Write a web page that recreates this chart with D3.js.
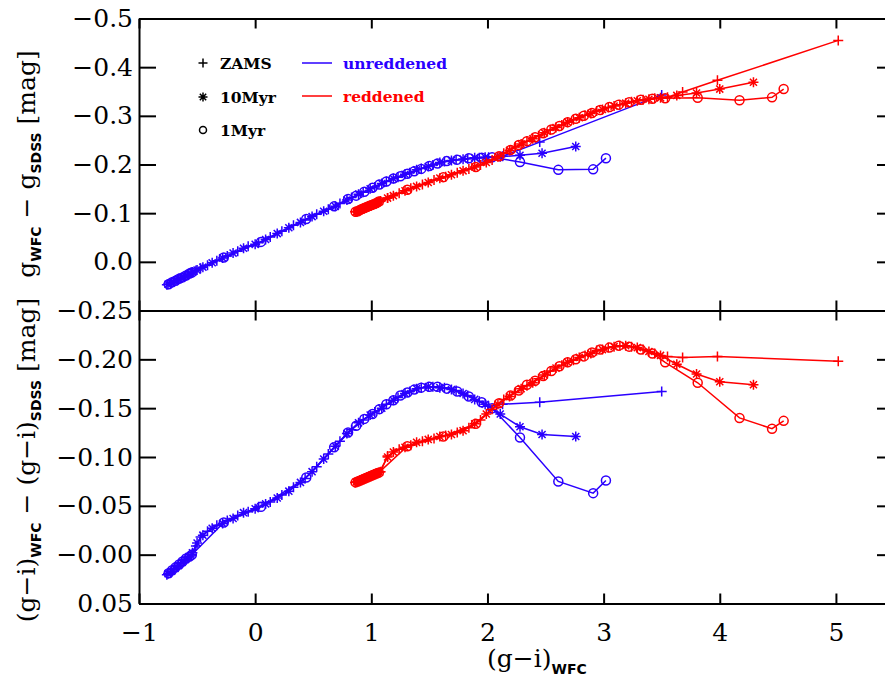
<!DOCTYPE html>
<html>
<head>
<meta charset="utf-8">
<script src="https://cdn.jsdelivr.net/npm/d3@7"></script>
<style>
  body { margin: 0; background: #fff; }
  svg { display: block; }
</style>
</head>
<body>
<div id="chart"></div>
<script>
// ---- data ----
// unreddened (blue)
var unredZamsX  = [-0.76,-0.73,-0.70,-0.67,-0.64,-0.61,-0.58,-0.55,-0.51,-0.47,-0.41,-0.33,-0.24,-0.15,-0.06,0.03,0.13,0.23,0.33,0.43,0.53,0.63,0.73,0.83,0.93,1.03,1.13,1.23,1.33,1.43,1.53,1.63,1.73,1.83,1.93,2.01,2.13,2.45,3.50];
var unredZamsG  = [0.047,0.044,0.040,0.037,0.033,0.030,0.026,0.022,0.018,0.013,0.007,-0.002,-0.012,-0.022,-0.032,-0.039,-0.051,-0.063,-0.075,-0.086,-0.098,-0.108,-0.120,-0.132,-0.143,-0.154,-0.165,-0.174,-0.183,-0.192,-0.199,-0.206,-0.210,-0.212,-0.214,-0.215,-0.217,-0.246,-0.343];
var unredZamsGI = [0.0205,0.018,0.015,0.012,0.009,0.006,0.003,0.000,-0.009,-0.018,-0.024,-0.030,-0.035,-0.040,-0.044,-0.049,-0.054,-0.061,-0.069,-0.078,-0.090,-0.103,-0.116,-0.128,-0.138,-0.146,-0.154,-0.161,-0.167,-0.171,-0.172,-0.171,-0.168,-0.163,-0.157,-0.152,-0.154,-0.156,-0.167];

var unred10X  = [-0.75,-0.72,-0.69,-0.66,-0.63,-0.60,-0.57,-0.54,-0.50,-0.45,-0.37,-0.28,-0.19,-0.10,0.00,0.09,0.19,0.29,0.39,0.49,0.59,0.69,0.79,0.89,0.99,1.09,1.19,1.29,1.39,1.49,1.59,1.69,1.79,1.89,1.98,2.11,2.28,2.47,2.76];
var unred10G  = [0.046,0.043,0.039,0.035,0.032,0.029,0.025,0.021,0.017,0.011,0.002,-0.008,-0.018,-0.028,-0.036,-0.046,-0.058,-0.070,-0.081,-0.093,-0.104,-0.114,-0.127,-0.139,-0.150,-0.161,-0.171,-0.180,-0.189,-0.196,-0.204,-0.208,-0.211,-0.214,-0.215,-0.216,-0.219,-0.223,-0.237];
var unred10GI = [0.0195,0.017,0.014,0.011,0.008,0.005,0.002,-0.002,-0.012,-0.020,-0.027,-0.032,-0.037,-0.043,-0.047,-0.052,-0.058,-0.065,-0.074,-0.085,-0.098,-0.111,-0.124,-0.135,-0.143,-0.150,-0.158,-0.165,-0.170,-0.172,-0.171,-0.169,-0.165,-0.159,-0.154,-0.144,-0.131,-0.123,-0.121];

var unred1X  = [-0.745,-0.715,-0.685,-0.655,-0.625,-0.595,-0.565,-0.545,-0.27,0.05,0.44,0.68,0.80,0.87,0.94,1.01,1.07,1.13,1.19,1.25,1.31,1.37,1.43,1.50,1.57,1.65,1.74,1.84,1.95,2.04,2.28,2.61,2.91,3.02];
var unred1G  = [0.046,0.042,0.039,0.035,0.032,0.028,0.024,0.022,-0.009,-0.041,-0.088,-0.114,-0.129,-0.136,-0.144,-0.152,-0.159,-0.165,-0.171,-0.176,-0.181,-0.186,-0.191,-0.197,-0.202,-0.207,-0.210,-0.213,-0.214,-0.215,-0.205,-0.189,-0.190,-0.213];
var unred1GI = [0.019,0.016,0.013,0.010,0.007,0.004,0.002,0.000,-0.033,-0.049,-0.079,-0.110,-0.125,-0.132,-0.139,-0.144,-0.149,-0.154,-0.158,-0.163,-0.166,-0.169,-0.171,-0.172,-0.172,-0.170,-0.167,-0.162,-0.156,-0.150,-0.120,-0.075,-0.063,-0.076];

// reddened (red)
var redZamsX  = [0.86,0.88,0.90,0.92,0.94,0.96,0.98,1.00,1.02,1.04,1.06,1.08,1.14,1.24,1.34,1.44,1.54,1.64,1.74,1.84,1.94,2.04,2.14,2.24,2.34,2.44,2.54,2.64,2.74,2.84,2.94,3.04,3.14,3.24,3.34,3.44,3.55,3.68,3.98,5.02];
var redZamsG  = [-0.103,-0.104,-0.106,-0.108,-0.110,-0.112,-0.114,-0.116,-0.118,-0.120,-0.123,-0.125,-0.131,-0.141,-0.151,-0.159,-0.168,-0.175,-0.183,-0.191,-0.199,-0.209,-0.223,-0.236,-0.248,-0.259,-0.271,-0.281,-0.292,-0.301,-0.310,-0.317,-0.323,-0.329,-0.333,-0.336,-0.338,-0.349,-0.373,-0.455];
var redZamsGI = [-0.074,-0.075,-0.076,-0.077,-0.078,-0.079,-0.080,-0.081,-0.082,-0.083,-0.084,-0.085,-0.101,-0.108,-0.112,-0.116,-0.119,-0.122,-0.125,-0.130,-0.138,-0.149,-0.159,-0.166,-0.173,-0.180,-0.188,-0.194,-0.199,-0.204,-0.209,-0.212,-0.214,-0.213,-0.210,-0.206,-0.203,-0.202,-0.203,-0.198];

var red10X  = [0.87,0.89,0.91,0.93,0.95,0.97,0.99,1.01,1.03,1.05,1.07,1.14,1.19,1.29,1.39,1.49,1.59,1.69,1.79,1.89,1.99,2.09,2.19,2.29,2.39,2.49,2.59,2.69,2.79,2.89,2.99,3.09,3.19,3.29,3.39,3.49,3.63,3.80,4.00,4.29];
var red10G  = [-0.103,-0.105,-0.107,-0.109,-0.111,-0.113,-0.115,-0.117,-0.119,-0.122,-0.124,-0.131,-0.136,-0.146,-0.155,-0.163,-0.172,-0.179,-0.187,-0.195,-0.204,-0.216,-0.229,-0.242,-0.253,-0.265,-0.276,-0.287,-0.296,-0.305,-0.313,-0.320,-0.326,-0.331,-0.334,-0.337,-0.342,-0.347,-0.355,-0.369];
var red10GI = [-0.0745,-0.0755,-0.0765,-0.0775,-0.0785,-0.0795,-0.0805,-0.0815,-0.0825,-0.0835,-0.0845,-0.100,-0.105,-0.110,-0.115,-0.118,-0.121,-0.123,-0.127,-0.134,-0.144,-0.154,-0.162,-0.170,-0.176,-0.184,-0.191,-0.197,-0.202,-0.206,-0.210,-0.213,-0.214,-0.212,-0.208,-0.204,-0.195,-0.185,-0.177,-0.174];

var red1X  = [0.865,0.885,0.905,0.925,0.945,0.965,0.985,1.005,1.025,1.045,1.065,1.31,1.62,1.90,2.10,2.20,2.27,2.34,2.41,2.48,2.55,2.62,2.69,2.76,2.83,2.90,2.97,3.05,3.13,3.22,3.32,3.42,3.53,3.81,4.17,4.45,4.55];
var red1G  = [-0.103,-0.104,-0.107,-0.109,-0.111,-0.113,-0.115,-0.117,-0.119,-0.121,-0.124,-0.148,-0.174,-0.195,-0.217,-0.230,-0.240,-0.248,-0.256,-0.264,-0.272,-0.279,-0.287,-0.294,-0.300,-0.306,-0.312,-0.318,-0.323,-0.328,-0.333,-0.335,-0.336,-0.337,-0.332,-0.338,-0.355];
var red1GI = [-0.074,-0.075,-0.076,-0.077,-0.078,-0.079,-0.080,-0.081,-0.082,-0.083,-0.084,-0.111,-0.121,-0.134,-0.155,-0.163,-0.168,-0.174,-0.178,-0.183,-0.188,-0.193,-0.197,-0.200,-0.203,-0.207,-0.210,-0.212,-0.214,-0.213,-0.210,-0.206,-0.197,-0.176,-0.140,-0.129,-0.137];

// ticks
var xTicks = [-1,0,1,2,3,4,5];
var xTickLabels = ["\u22121","0","1","2","3","4","5"];
var topTicks = [-0.5,-0.4,-0.3,-0.2,-0.1,0.0];
var topTickLabels = ["\u22120.5","\u22120.4","\u22120.3","\u22120.2","\u22120.1","0.0"];
var botTicks = [-0.25,-0.20,-0.15,-0.10,-0.05,0.00,0.05];
var botTickLabels = ["\u22120.25","\u22120.20","\u22120.15","\u22120.10","\u22120.05","\u22120.00","0.05"];
var legendAges = ["ZAMS","10Myr","1Myr"];
var legendSets = ["unreddened","reddened"];

// ---- layout ----
var W = 885, H = 677;
var plotL = 139, plotR = 894, plotT = 18.5, plotM = 310.5, plotB = 603.5;
var BLUE = "#2a00ff", RED = "#ff0000";
var serif = "DejaVu Serif";

var svg = d3.select("#chart").append("svg")
  .attr("width", W).attr("height", H)
  .style("font-family", serif);
svg.append("rect").attr("width", W).attr("height", H).attr("fill", "#fff");

var xscale = d3.scaleLinear().domain([-1, 5.5]).range([plotL, plotR]);
var ytop = d3.scaleLinear().domain([0.1, -0.5]).range([plotM, plotT]);
var ybot = d3.scaleLinear().domain([0.05, -0.25]).range([plotB, plotM]);

var series = [
  {x: unredZamsX, g: unredZamsG, gi: unredZamsGI, color: BLUE, sym: "plus"},
  {x: unred10X, g: unred10G, gi: unred10GI, color: BLUE, sym: "star"},
  {x: unred1X, g: unred1G, gi: unred1GI, color: BLUE, sym: "circle"},
  {x: redZamsX, g: redZamsG, gi: redZamsGI, color: RED, sym: "plus"},
  {x: red10X, g: red10G, gi: red10GI, color: RED, sym: "star"},
  {x: red1X, g: red1G, gi: red1GI, color: RED, sym: "circle"}
];

function symPath(sym, s) {
  if (sym === "plus") return "M" + (-s) + ",0H" + s + "M0," + (-s) + "V" + s;
  if (sym === "star") {
    var d = s * 0.707;
    return "M" + (-s) + ",0H" + s + "M0," + (-s) + "V" + s +
      "M" + (-d) + "," + (-d) + "L" + d + "," + d + "M" + (-d) + "," + d + "L" + d + "," + (-d);
  }
  return null;
}

function drawSym(g, sym, cx, cy, color, s) {
  if (sym === "circle") {
    g.append("circle").attr("cx", cx).attr("cy", cy).attr("r", s)
      .attr("fill", "none").attr("stroke", color).attr("stroke-width", 1.5);
  } else {
    g.append("path").attr("d", symPath(sym, s))
      .attr("transform", "translate(" + cx + "," + cy + ")")
      .attr("fill", "none").attr("stroke", color).attr("stroke-width", 1.5);
  }
}

function styleAxis(a) {
  a.select(".domain").attr("stroke", "#000").attr("stroke-width", 2);
  a.selectAll(".tick line").attr("stroke", "#000").attr("stroke-width", 2);
}

function panel(yscale, key, ticks, labels, y0, y1) {
  var g = svg.append("g");
  var line = d3.line()
    .x(function(d) { return xscale(d[0]); })
    .y(function(d) { return yscale(d[1]); });

  series.forEach(function(s) {
    var pts = d3.zip(s.x, s[key]);
    g.append("path").datum(pts)
      .attr("fill", "none")
      .attr("stroke", s.color)
      .attr("stroke-width", 1.5)
      .attr("d", line);
    pts.forEach(function(p) {
      drawSym(g, s.sym, xscale(p[0]), yscale(p[1]), s.color, s.sym === "circle" ? 4.5 : 5);
    });
  });

  // axes, ticks pointing inward
  svg.append("g").attr("transform", "translate(" + plotL + ",0)")
    .call(d3.axisLeft(yscale).tickValues(ticks)
      .tickFormat(function(d, i) { return labels[i]; })
      .tickSizeInner(-17).tickSizeOuter(0).tickPadding(6))
    .call(styleAxis)
    .selectAll("text").attr("font-size", 25).attr("font-family", serif).attr("fill", "#000");

  svg.append("g").attr("transform", "translate(" + plotR + ",0)")
    .call(d3.axisRight(yscale).tickValues(ticks).tickFormat("")
      .tickSizeInner(-17).tickSizeOuter(0))
    .call(styleAxis);

  svg.append("g").attr("transform", "translate(0," + y0 + ")")
    .call(d3.axisTop(xscale).tickValues(xTicks).tickFormat("")
      .tickSizeInner(-10).tickSizeOuter(0))
    .call(styleAxis);

  var bx = svg.append("g").attr("transform", "translate(0," + y1 + ")")
    .call(d3.axisBottom(xscale).tickValues(xTicks)
      .tickFormat(function(d, i) { return key === "gi" ? xTickLabels[i] : ""; })
      .tickSizeInner(-10).tickSizeOuter(0).tickPadding(20))
    .call(styleAxis);
  bx.selectAll("text").attr("font-size", 25).attr("font-family", serif).attr("fill", "#000");
}

panel(ytop, "g", topTicks, topTickLabels, plotT, plotM);
panel(ybot, "gi", botTicks, botTickLabels, plotM, plotB);

// ---- axis titles ----
var subFont = "DejaVu Sans";
function title(t, parts) {
  parts.forEach(function(p) {
    var ts = t.append("tspan").text(p.s);
    if (p.sub) ts.attr("font-size", 14).attr("font-weight", "bold").attr("font-family", subFont).attr("dy", p.dy);
    else ts.attr("font-size", 25).attr("dy", p.dy || 0);
  });
}

var t1 = svg.append("text").attr("transform", "translate(35,164) rotate(-90)")
  .attr("text-anchor", "middle").attr("fill", "#000");
title(t1, [
  {s: "g"}, {s: "WFC", sub: true, dy: 6}, {s: "  \u2212  ", dy: -6},
  {s: "g"}, {s: "SDSS", sub: true, dy: 6}, {s: "  [mag]", dy: -6}
]);

var t2 = svg.append("text").attr("transform", "translate(35,460) rotate(-90)")
  .attr("text-anchor", "middle").attr("fill", "#000");
title(t2, [
  {s: "(g\u2212i)"}, {s: "WFC", sub: true, dy: 6}, {s: "  \u2212  ", dy: -6},
  {s: "(g\u2212i)"}, {s: "SDSS", sub: true, dy: 6}, {s: " [mag]", dy: -6}
]);

var t3 = svg.append("text").attr("x", 487).attr("y", 667).attr("fill", "#000");
title(t3, [{s: "(g\u2212i)"}, {s: "WFC", sub: true, dy: 7}]);

// ---- legend ----
var lg = svg.append("g");
var ageSyms = ["plus", "star", "circle"];
var ageY = [63, 97, 130];
legendAges.forEach(function(a, i) {
  drawSym(lg, ageSyms[i], 203, ageY[i], "#000", ageSyms[i] === "circle" ? 3.5 : 4.5);
  lg.append("text").attr("x", 220).attr("y", ageY[i] + 6)
    .attr("font-size", 15.5).attr("font-weight", "bold").attr("fill", "#000").text(a);
});
var setColors = [BLUE, RED];
legendSets.forEach(function(s, i) {
  var y = ageY[i] - (i ? 1 : 0);
  lg.append("line").attr("x1", 302).attr("x2", 332).attr("y1", y).attr("y2", y)
    .attr("stroke", setColors[i]).attr("stroke-width", 1.5);
  lg.append("text").attr("x", 343).attr("y", y + 6)
    .attr("font-size", 15.5).attr("font-weight", "bold").attr("fill", setColors[i]).text(s);
});
</script>
</body>
</html>
